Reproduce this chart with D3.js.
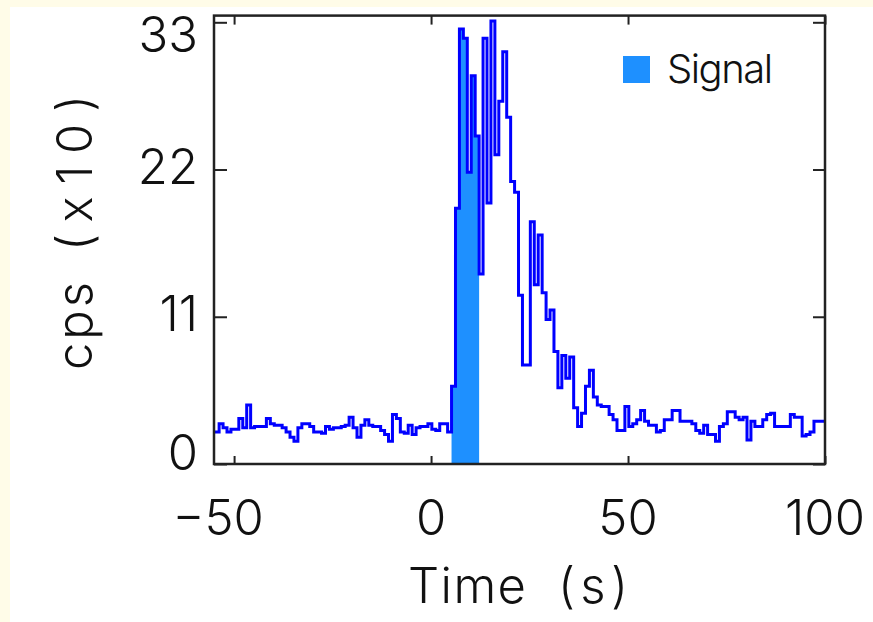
<!DOCTYPE html>
<html><head><meta charset="utf-8">
<script src="https://cdn.jsdelivr.net/npm/d3@7"></script>
<style>html,body{margin:0;padding:0;background:#fffce8;}svg{display:block}</style>
</head><body><svg id="c" width="873" height="622"></svg>
<script>
// ---- data (counts per second, in units of x10 cps), 1 s bins ----
const preBurstCounts = [2.4,
  2.4,3.0,2.7,2.4,2.6,2.6,3.4,2.7,4.4,2.7,2.8,2.8,2.8,3.4,3.0,2.9,2.9,2.7,2.4,2.0,1.7,2.7,3.0,3.0,2.8,2.4,2.4,2.3,2.8,2.6,
  2.7,2.7,2.8,2.9,3.5,2.7,2.0,2.9,3.3,2.9,2.8,2.8,2.5,2.2,1.7,3.7,3.4,2.4,2.3,2.9,2.2,2.7,2.8,2.8,3.0,2.6,2.5,3.0,3.0,2.4];
const burstCounts = [5.8,19.1,32.5,31.8,21.8,29.0,24.5,14.2,31.8,19.5,33.1,23.1,27.1,30.8,25.9,21.1,20.3,12.6,7.4,7.4,
  18.1,13.4,17.1,12.8,10.8,11.5,8.4,5.7,8.1,6.4,8.0,4.2,2.8,3.8,5.8,7.0,5.0];
const tailCounts = [4.4,4.3,4.3,3.7,3.3,2.5,2.5,4.3,2.8,3.0,3.3,4.0,3.2,2.9,2.9,2.4,2.5,3.3,3.3,4.0,4.0,3.2,3.2,3.2,3.0,
  2.5,2.3,2.9,2.2,2.2,1.7,2.8,3.0,3.9,3.9,3.5,3.3,3.5,1.8,3.2,2.8,2.8,3.3,3.7,3.8,2.8,2.8,2.8,2.8,3.7,3.5,3.5,2.1,2.2,2.4,3.2,3.2,3.2];
const binStart = -55.8, binWidth = 1.0;
const signalWindow = [5.2, 12.2];
const xTicks = [-50, 0, 50, 100];
const xTickLabels = ["\u221250", "0", "50", "100"];
const yTicks = [0, 11, 22, 33];
const yTickLabels = ["0", "11", "22", "33"];
const xDomain = [-55.1, 100];
const yDomain = [0, 33.5];
const xTitleWords = ["Time", "(s)"];
const yTitleWords = ["cps", "(x10)"];
const legendLabel = "Signal";

// ---- build ----
const counts = preBurstCounts.concat(burstCounts, tailCounts);
const bins = counts.map((v, i) => ({t: binStart + i * binWidth, v}));
bins.push({t: binStart + counts.length * binWidth, v: counts[counts.length - 1]});

const svg = d3.select('#c');
svg.append('rect').attr('x', 10).attr('y', 7).attr('width', 863).attr('height', 615).attr('fill', '#ffffff');

const L = 214, R = 825, T = 15.6, B = 464;
const x = d3.scaleLinear().domain(xDomain).range([L, R]);
const y = d3.scaleLinear().domain(yDomain).range([B, T]);

svg.append('clipPath').attr('id', 'clip').append('rect')
  .attr('x', L).attr('y', T).attr('width', R - L).attr('height', B - T);

const g = svg.append('g').attr('clip-path', 'url(#clip)');
const eps = 1e-6;
const sig = bins.filter(d => d.t >= signalWindow[0] - eps && d.t <= signalWindow[1] + eps);
g.append('path').datum(sig)
  .attr('d', d3.area().curve(d3.curveStepAfter).x(d => x(d.t)).y0(y(0)).y1(d => y(d.v)))
  .attr('fill', '#1e90ff');
g.append('path').datum(bins)
  .attr('d', d3.line().curve(d3.curveStepAfter).x(d => x(d.t)).y(d => y(d.v)))
  .attr('fill', 'none').attr('stroke', '#0000ff').attr('stroke-width', 3)
  .attr('stroke-linejoin', 'miter');

// ticks (inward) via axes
const tickStyle = sel => { sel.select('.domain').remove(); sel.selectAll('line').attr('stroke', '#222').attr('stroke-width', 2); };
svg.append('g').attr('transform', `translate(0,${B})`)
  .call(d3.axisBottom(x).tickValues(xTicks).tickSizeInner(-8).tickSizeOuter(0).tickFormat(''))
  .call(tickStyle);
svg.append('g').attr('transform', `translate(0,${T})`)
  .call(d3.axisTop(x).tickValues(xTicks).tickSizeInner(-9).tickSizeOuter(0).tickFormat(''))
  .call(tickStyle);
svg.append('g').attr('transform', `translate(${L},0)`)
  .call(d3.axisLeft(y).tickValues(yTicks).tickSizeInner(-13).tickSizeOuter(0).tickFormat(''))
  .call(tickStyle);
svg.append('g').attr('transform', `translate(${R},0)`)
  .call(d3.axisRight(y).tickValues(yTicks).tickSizeInner(-12).tickSizeOuter(0).tickFormat(''))
  .call(tickStyle);

// frame
svg.append('rect').attr('x', L).attr('y', T).attr('width', R - L).attr('height', B - T)
  .attr('fill', 'none').attr('stroke', '#222').attr('stroke-width', 2.5);

const font = 'Inter, Roboto, "Liberation Sans", sans-serif';
// x tick labels (centered on digits; minus hangs left)
const xl = svg.append('g').attr('font-family', font).attr('font-weight', 300).attr('font-size', 49).attr('fill', '#111');
xTicks.forEach((v, i) => {
  const txt = xl.append('text').attr('x', x(v)).attr('y', 535).attr('text-anchor', 'middle').text(xTickLabels[i]);
  if (xTickLabels[i].startsWith('\u2212')) {
    const tmp = xl.append('text').text('\u2212');
    const w = tmp.node().getComputedTextLength(); tmp.remove();
    txt.attr('dx', -w / 2);
  }
});
// y tick labels, kept inside the frame height
const yl = svg.append('g').attr('font-family', font).attr('font-weight', 300).attr('font-size', 49).attr('fill', '#111');
yTicks.forEach((v, i) => {
  const cy = Math.max(T + 19, Math.min(B - 12, y(v) - 3));
  yl.append('text').attr('x', 198).attr('y', cy).attr('dy', '0.36em').attr('text-anchor', 'end').text(yTickLabels[i]);
});

// titles
const xt = svg.append('text').attr('y', 603)
  .attr('font-family', font).attr('font-weight', 300).attr('font-size', 49).attr('fill', '#111');
xt.append('tspan').attr('x', 408).attr('textLength', 118).attr('lengthAdjust', 'spacing').text(xTitleWords[0]);
xt.append('tspan').attr('x', 558).attr('textLength', 70).attr('lengthAdjust', 'spacing').text(xTitleWords[1]);

const yt = svg.append('text').attr('transform', `translate(92,370) rotate(-90)`)
  .attr('font-family', font).attr('font-weight', 300).attr('font-size', 49).attr('fill', '#111');
yt.append('tspan').attr('x', 0).attr('textLength', 88).attr('lengthAdjust', 'spacing').text(yTitleWords[0]);
yt.append('tspan').attr('x', 119).attr('textLength', 156).attr('lengthAdjust', 'spacing').text(yTitleWords[1]);

// legend
svg.append('rect').attr('x', 623).attr('y', 56).attr('width', 27).attr('height', 27).attr('fill', '#1e90ff');
svg.append('text').attr('x', 667).attr('y', 83).attr('font-family', font).attr('font-weight', 300)
  .attr('font-size', 40).attr('fill', '#111').attr('textLength', 106).attr('lengthAdjust', 'spacing').text(legendLabel);
</script></body></html>
